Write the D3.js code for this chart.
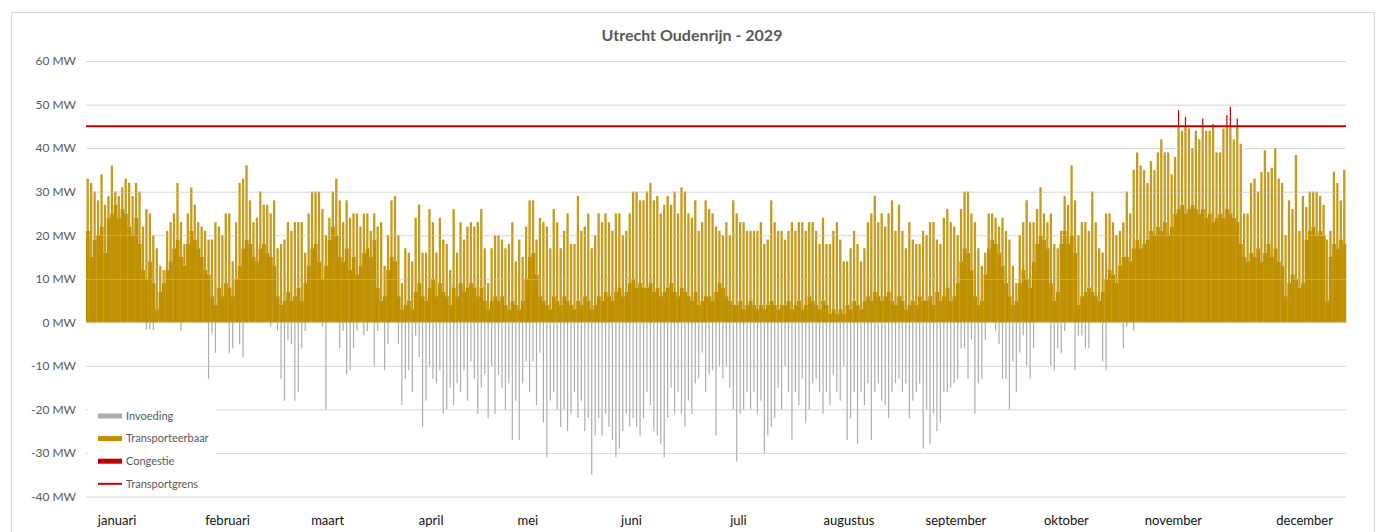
<!DOCTYPE html>
<html>
<head>
<meta charset="utf-8">
<title>Utrecht Oudenrijn - 2029</title>
<script src="https://d3js.org/d3.v7.min.js"></script>
<style>
  body { margin: 0; background: #fff; }
  svg text { font-family: Lato, "Open Sans", sans-serif; }
</style>
</head>
<body>
<script>
'use strict';

// daily values (MW), one entry per day of 2029
var peakMW = [
  33, 32, 30, 28, 34, 27, 29, 36, 30, 29,
  31, 33, 32, 29, 32, 30, 22, 26, 25, 20,
  17, 13, 12, 21, 23, 25, 32, 23, 18, 25,
  31, 27, 23, 22, 21, 19, 19, 23, 22, 20,
  25, 25, 14, 23, 32, 33, 36, 28, 23, 24,
  30, 27, 27, 25, 28, 17, 18, 19, 23, 21,
  23, 23, 23, 16, 25, 30, 30, 30, 26, 20,
  24, 30, 33, 28, 23, 28, 24, 25, 25, 22,
  25, 25, 21, 25, 22, 23, 13, 20, 28, 29,
  20, 9, 17, 16, 14, 24, 27, 16, 16, 26,
  23, 16, 24, 19, 18, 12, 26, 16, 23, 19,
  22, 23, 22, 23, 26, 17, 9, 17, 20, 20,
  19, 17, 18, 23, 14, 19, 15, 22, 28, 28,
  19, 24, 23, 22, 17, 26, 23, 17, 21, 25,
  18, 18, 29, 21, 22, 25, 17, 20, 25, 23,
  25, 23, 21, 25, 25, 20, 21, 25, 30, 30,
  28, 28, 30, 32, 28, 29, 25, 27, 29, 27,
  30, 25, 31, 30, 25, 24, 28, 21, 23, 28,
  26, 25, 22, 21, 20, 23, 20, 28, 25, 23,
  23, 21, 21, 21, 21, 23, 18, 19, 28, 23,
  21, 21, 19, 21, 23, 21, 23, 23, 21, 23,
  23, 21, 18, 24, 18, 18, 21, 23, 19, 14,
  14, 17, 21, 18, 14, 17, 23, 25, 29, 23,
  25, 22, 25, 28, 21, 27, 21, 17, 23, 19,
  18, 18, 21, 20, 23, 23, 19, 18, 24, 26,
  23, 22, 20, 26, 30, 30, 25, 23, 17, 13,
  16, 25, 25, 24, 22, 24, 21, 19, 13, 9,
  20, 23, 28, 23, 23, 26, 31, 25, 23, 25,
  18, 17, 21, 29, 27, 36, 28, 20, 23, 23,
  21, 30, 23, 17, 16, 25, 25, 23, 20, 21,
  23, 30, 25, 35, 39, 36, 35, 32, 37, 35,
  39, 42, 39, 39, 34, 38, 48.7, 44, 47.2, 44.5,
  40, 44, 42, 46.8, 44, 44, 45.5, 39, 39, 44.5,
  47.6, 49.5, 42, 46.8, 41, 25, 25, 32, 33, 30,
  34.5, 39.5, 34.5, 35.5, 40, 33, 32, 20, 28, 26,
  38.4, 21, 29, 26.5, 30, 30, 30, 29, 27, 19,
  21, 34.6, 32, 28, 35
];

var baseMW = [
  21, 15, 19, 20, 22, 16, 24, 25, 27, 24,
  26, 25, 22, 20, 24, 18, 12, 10, 14, 9,
  3, 7, 9, 12, 14, 17, 19, 15, 13, 18,
  21, 19, 17, 15, 12, 11, 6, 4, 8, 6,
  9, 8, 6, 10, 13, 17, 19, 18, 15, 14,
  17, 18, 16, 15, 13, 6, 4, 5, 7, 5,
  6, 8, 5, 9, 13, 17, 18, 14, 10, 13,
  19, 22, 20, 15, 14, 17, 12, 15, 11, 13,
  16, 17, 15, 19, 8, 5, 6, 12, 15, 14,
  6, 3, 4, 5, 3, 7, 9, 6, 5, 8,
  10, 6, 9, 7, 6, 4, 8, 6, 9, 7,
  8, 9, 8, 6, 8, 5, 3, 5, 6, 5,
  6, 4, 3, 5, 4, 3, 5, 10, 15, 16,
  11, 6, 5, 4, 3, 6, 5, 4, 6, 5,
  4, 3, 5, 4, 6, 5, 3, 4, 6, 5,
  7, 6, 5, 7, 8, 6, 7, 9, 10, 8,
  9, 8, 8, 9, 7, 8, 6, 7, 8, 9,
  7, 6, 8, 7, 6, 5, 7, 4, 5, 6,
  6, 5, 7, 9, 8, 6, 5, 4, 4, 5,
  3, 4, 5, 4, 3, 4, 3, 4, 5, 4,
  3, 4, 4, 5, 3, 4, 5, 3, 4, 6,
  5, 4, 3, 5, 4, 2, 3, 2, 3, 2,
  4, 3, 5, 4, 3, 5, 6, 5, 7, 6,
  5, 6, 7, 5, 4, 6, 5, 3, 4, 5,
  4, 6, 5, 5, 6, 4, 7, 5, 6, 8,
  5, 6, 9, 14, 17, 16, 12, 6, 4, 5,
  11, 17, 19, 18, 16, 13, 9, 6, 4, 5,
  9, 12, 10, 8, 14, 18, 20, 19, 17, 9,
  5, 7, 18, 21, 18, 20, 16, 4, 6, 7,
  8, 7, 6, 5, 7, 10, 12, 11, 9, 13,
  15, 15, 14, 17, 19, 17, 18, 19, 21, 20,
  22, 21, 23, 20, 22, 25, 26, 27, 25, 26,
  27, 26, 25, 26, 24, 25, 23, 24, 25, 24,
  26, 25, 24, 23, 18, 15, 14, 16, 15, 17,
  14, 16, 18, 15, 17, 14, 13, 6, 9, 11,
  10, 8, 9, 19, 21, 22, 20, 21, 20, 5,
  15, 18, 17, 19, 18
];

var feedInMW = [
  0, 0, 0, 0, 0, 0, 0, 0, 0, 0,
  0, 0, 0, 0, 0, 0, 0, -1.7, -1.6, -1.8,
  0, 0, 0, 0, 0, 0, 0, -2, 0, 0,
  0, 0, 0, 0, 0, -13, -2.6, -7, 0, 0,
  0, -7, -6, 0, -5, -8, 0, 0, 0, 0,
  0, 0, 0, -1, 0, -2, -13, -18, -4, -5,
  -18, -16, -6, -2, 0, 0, 0, 0, -1, -20,
  0, 0, 0, -6, -2, -12, -11, -6, -2, 0,
  -3, -2, 0, -10, -2, 0, -11, -5, 0, 0,
  -5, -19, -13, -11, -16, -3, -8, -24, -18, -10,
  -13, -14, -11, -21, -20, -15, -19, -14, -16, -11,
  -18, -9, -13, -21, -15, -12, -22, -10, -21, -12,
  -15, -20, -14, -27, -18, -27, -14, -9, -16, -9,
  -19, -7, -23, -31, -18, -16, -20, -24, -20, -25,
  -21, -16, -22, -18, -25, -22, -35, -26, -22, -26,
  -21, -24, -27, -31, -29, -25, -21, -24, -22, -24,
  -26, -22, -16, -19, -25, -26, -28, -31, -22, -15,
  -21, -16, -21, -24, -18, -21, -14, -13, -7, -16,
  -12, -11, -26, -10, -13, -10, -15, -20, -32, -21,
  -20, -16, -20, -16, -21, -18, -30, -26, -24, -22,
  -15, -20, -10, -16, -27, -16, -19, -13, -23, -20,
  -14, -13, -16, -21, -16, -19, -12, -16, -18, -10,
  -27, -22, -16, -28, -16, -19, -14, -27, -16, -14,
  -18, -19, -22, -16, -14, -13, -16, -14, -22, -18,
  -16, -14, -29, -20, -28, -21, -25, -23, -16, -16,
  -15, -14, -13, -6, -6, -13, -4, -21, -14, -13,
  -4, 0, 0, -2, -5, -13, -13, -20, -9, -16,
  -7, -3, -10, -13, -6, 0, 0, 0, 0, -10,
  -11, -6, -7, -2, 0, 0, -11, -3, -3, -6,
  -6, 0, 0, 0, -9, -11, 0, 0, 0, 0,
  -6, -1, 0, -2, 0, 0, 0, 0, 0, 0,
  0, 0, 0, 0, 0, 0, 0, 0, 0, 0,
  0, 0, 0, 0, 0, 0, 0, 0, 0, 0,
  0, 0, 0, 0, 0, 0, 0, 0, 0, 0,
  0, 0, 0, 0, 0, 0, 0, 0, 0, 0,
  0, 0, 0, 0, 0, 0, 0, 0, 0, 0,
  0, 0, 0, 0, 0
];

var transportLimit = 45;

var months = ["januari", "februari", "maart", "april", "mei", "juni",
              "juli", "augustus", "september", "oktober", "november", "december"];
// day of year where each month label sits on the category axis
var monthLabelDay = [9, 41, 70, 100, 128, 158, 189, 221, 252, 284, 315, 353];

var yTicks = [-40, -30, -20, -10, 0, 10, 20, 30, 40, 50, 60];

var legendItems = ["Invoeding", "Transporteerbaar", "Congestie", "Transportgrens"];

(function() {

    var width = 1380,
        height = 532;

    var gold = "#bf9000",
        grey = "#adadad",
        red = "#c00000",
        grid = "#d9d9d9",
        textCol = "#595959";

    var svg = d3.select("body")
        .append("svg")
        .attr("width", width)
        .attr("height", height);

    svg.append("rect")
        .attr("x", 11.5).attr("y", 12.5)
        .attr("width", 1363).attr("height", 540)
        .attr("fill", "#fff")
        .attr("stroke", grid);

    var x = d3.scaleLinear()
        .domain([0, peakMW.length])
        .range([86, 1346]);

    var y = d3.scaleLinear()
        .domain([-40, 60])
        .range([496.5, 61]);

    svg.append("text")
        .attr("x", 692).attr("y", 41)
        .attr("text-anchor", "middle")
        .attr("font-size", 16)
        .attr("font-weight", "bold")
        .attr("fill", textCol)
        .text("Utrecht Oudenrijn - 2029");

    // gridlines + y labels
    var yAxis = d3.axisLeft(y)
        .tickValues(yTicks)
        .tickSize(-(x.range()[1] - x.range()[0]))
        .tickPadding(10)
        .tickFormat(function(d) { return d + " MW"; });

    var gAxis = svg.append("g")
        .attr("transform", "translate(" + x.range()[0] + ",0)")
        .call(yAxis);
    gAxis.select(".domain").remove();
    gAxis.selectAll("line").attr("stroke", grid);
    gAxis.selectAll("text")
        .attr("font-size", 12)
        .attr("fill", textCol)
        .style("font-family", "Lato, 'Open Sans', sans-serif");

    var days = d3.range(peakMW.length);
    var dayW = x(1) - x(0);

    var bars = svg.append("g").attr("id", "bars");

    // invoeding (negative)
    bars.selectAll(".neg")
        .data(days.filter(function(d) { return feedInMW[d] < 0; }))
        .enter()
        .append("rect")
        .attr("x", function(d) { return x(d + 0.5) - 0.6; })
        .attr("width", 1.2)
        .attr("y", y(0))
        .attr("height", function(d) { return y(feedInMW[d]) - y(0); })
        .attr("fill", grey);

    // transporteerbaar: dense part
    bars.selectAll(".base")
        .data(days)
        .enter()
        .append("rect")
        .attr("x", function(d) { return x(d); })
        .attr("width", dayW + 0.3)
        .attr("y", function(d) { return y(Math.min(baseMW[d], transportLimit)); })
        .attr("height", function(d) { return y(0) - y(Math.min(baseMW[d], transportLimit)); })
        .attr("fill", gold);

    // transporteerbaar: peaks
    bars.selectAll(".peak")
        .data(days)
        .enter()
        .append("rect")
        .attr("x", function(d) { return x(d + 0.5) - 1.15; })
        .attr("width", 2.3)
        .attr("y", function(d) { return y(Math.min(peakMW[d], transportLimit)); })
        .attr("height", function(d) {
            return y(baseMW[d]) - y(Math.min(peakMW[d], transportLimit));
        })
        .attr("fill", gold)
        .attr("fill-opacity", 0.9);

    // congestie above the limit
    bars.selectAll(".cong")
        .data(days.filter(function(d) { return peakMW[d] > transportLimit; }))
        .enter()
        .append("rect")
        .attr("x", function(d) { return x(d + 0.5) - 0.6; })
        .attr("width", 1.2)
        .attr("y", function(d) { return y(peakMW[d]); })
        .attr("height", function(d) { return y(transportLimit) - y(peakMW[d]); })
        .attr("fill", red);

    // gridlines shining through the thin bars
    svg.append("g")
        .selectAll("line")
        .data(yTicks.filter(function(t) { return t !== 0; }))
        .enter()
        .append("line")
        .attr("x1", x.range()[0]).attr("x2", x.range()[1])
        .attr("y1", function(d) { return Math.round(y(d)) + 0.5; })
        .attr("y2", function(d) { return Math.round(y(d)) + 0.5; })
        .attr("stroke", grid)
        .attr("stroke-opacity", 0.35);

    svg.append("line")
        .attr("x1", x.range()[0]).attr("x2", x.range()[1])
        .attr("y1", y(transportLimit)).attr("y2", y(transportLimit))
        .attr("stroke", red)
        .attr("stroke-width", 2);

    // month labels
    svg.append("g")
        .selectAll("text")
        .data(months)
        .enter()
        .append("text")
        .attr("x", function(d, i) { return x(monthLabelDay[i]); })
        .attr("y", 525)
        .attr("text-anchor", "middle")
        .attr("font-size", 13)
        .attr("fill", "#111")
        .text(function(d) { return d; });

    // legend
    var legend = svg.append("g").attr("id", "legend");
    legend.append("rect")
        .attr("x", 88).attr("y", 401)
        .attr("width", 128).attr("height", 91)
        .attr("fill", "#fff");

    var legendColors = [grey, gold, red, red];
    var item = legend.selectAll(".item")
        .data(legendItems)
        .enter()
        .append("g")
        .attr("transform", function(d, i) { return "translate(98," + (416 + i * 22.6) + ")"; });

    item.append("rect")
        .attr("y", function(d, i) { return i === 3 ? -1 : -2.5; })
        .attr("width", 24)
        .attr("height", function(d, i) { return i === 3 ? 2 : 5; })
        .attr("fill", function(d, i) { return legendColors[i]; });

    item.append("text")
        .attr("x", 28)
        .attr("dy", "0.35em")
        .attr("font-size", 11)
        .attr("fill", textCol)
        .text(function(d) { return d; });

})();
</script>
</body>
</html>
